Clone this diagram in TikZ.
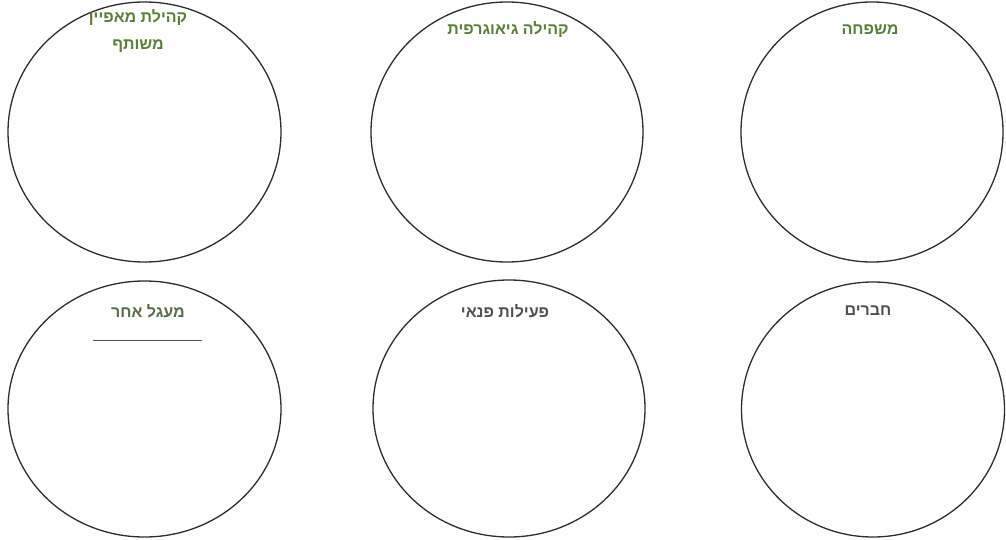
\documentclass[tikz,border=0pt]{standalone}
\usepackage{fontspec}
\setmainfont{Liberation Sans}
\TeXXeTstate=1
\newfontfamily\hebfont[Script=Hebrew]{Liberation Sans}
\definecolor{lblgreen}{HTML}{5B7F3B}
\definecolor{lblgray}{HTML}{505050}
\definecolor{lblolive}{HTML}{5F6A4C}
\definecolor{ringcol}{HTML}{2E2E2E}
\tikzset{
  ring/.style={draw=ringcol, line width=1.3pt},
  lbl/.style={font=\hebfont\bfseries\fontsize{16}{27}\selectfont, inner sep=0pt, align=center},
}
\begin{document}
\begin{tikzpicture}[x=1pt,y=-1pt]
\useasboundingbox (0,0) rectangle (1006,540);
\fill[white] (0,0) rectangle (1006,540);
\draw[ring] (144.5,132) ellipse [x radius=136.5, y radius=130];
\draw[ring] (507,132) ellipse [x radius=136, y radius=130];
\draw[ring] (872,132) ellipse [x radius=131, y radius=130];
\draw[ring] (144.5,409) ellipse [x radius=136.5, y radius=128];
\draw[ring] (509,408.5) ellipse [x radius=136, y radius=128.5];
\draw[ring] (873,409.5) ellipse [x radius=131.5, y radius=127.5];
\node[lbl, text=lblgreen] (a) at (138,31) {\beginR קהילת מאפיין\endR\\\beginR משותף\endR};
\node[lbl, text=lblgreen] (b) at (508,30) {\beginR קהילה גיאוגרפית\endR};
\node[lbl, text=lblgreen] (c) at (870,30) {\beginR משפחה\endR};
\node[lbl, text=lblolive] (d) at (148,311) {\beginR מעגל אחר\endR};
\node[lbl, text=lblgray] (e) at (505,311) {\beginR פעילות פנאי\endR};
\node[lbl, text=lblgray] (f) at (868,311) {\beginR חברים\endR};
\coordinate (u1) at (93,340);
\coordinate (u2) at (202,340);
\draw[draw=lblgray, line width=1pt] (u1) -- (u2);
\end{tikzpicture}
\end{document}
